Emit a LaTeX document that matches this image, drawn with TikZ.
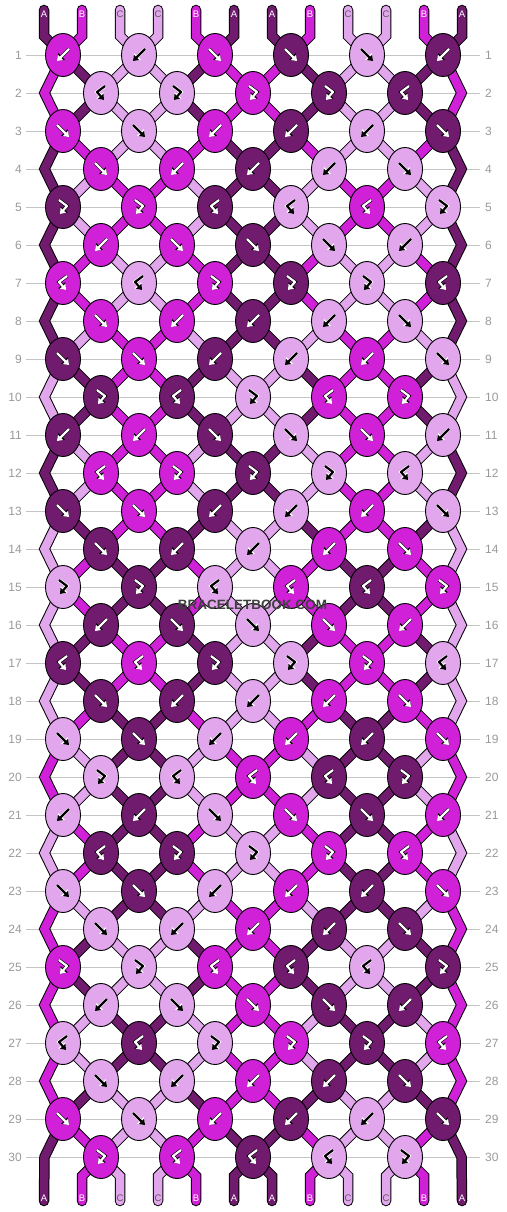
\documentclass[tikz,border=0pt]{standalone}
\usepackage{fontspec}
\setmainfont{Liberation Sans}
\usepackage{tikz}
\usepackage{xcolor}
\usetikzlibrary{shapes.geometric,arrows.meta}
\pgfdeclarelayer{background}
\pgfsetlayers{background,main}

\definecolor{strA}{HTML}{711B6F}
\definecolor{strB}{HTML}{D021D8}
\definecolor{strC}{HTML}{E2A6EC}
\colorlet{arrA}{white}
\colorlet{arrB}{white}
\colorlet{arrC}{black}
\colorlet{rimA}{black}
\colorlet{rimB}{black}
\colorlet{rimC}{white}
\colorlet{labA}{white}
\colorlet{labB}{white}
\colorlet{labC}{black!65}
\definecolor{rulegray}{HTML}{C4C4C4}
\definecolor{numgray}{HTML}{999999}

\newcommand{\glyphf}[2]{\draw [glyph=#2] ([shift={(-6,-6)}]#1.center) -- ([shift={(6,6)}]#1.center);}
\newcommand{\glyphb}[2]{\draw [glyph=#2] ([shift={(6,-6)}]#1.center) -- ([shift={(-6,6)}]#1.center);}
\newcommand{\glyphfb}[2]{\draw [glyph=#2] ([shift={(-4,-7)}]#1.center) -- ([shift={(4,-1)}]#1.center) -- ([shift={(-3,7)}]#1.center);}
\newcommand{\glyphbf}[2]{\draw [glyph=#2] ([shift={(4,-7)}]#1.center) -- ([shift={(-4,-1)}]#1.center) -- ([shift={(3,7)}]#1.center);}

\begin{document}
\begin{tikzpicture}[x=1pt, y=-1pt,
	knot/.style={ellipse, draw=black, line width=0.9pt, minimum width=35pt, minimum height=43pt, inner sep=0pt},
	thread/.style={draw=black, line width=1pt, double=#1, double distance=8.5pt},
	glyph/.style={draw=arr#1, line width=2.2pt, line join=round, -{Triangle[length=5pt,width=7pt]},
		preaction={draw=rim#1, line width=3.4pt, -{Triangle[length=6.4pt,width=9pt]}}},
	rownum/.style={text=numgray, font=\fontsize{12}{12}\selectfont, inner sep=0pt},
	rowline/.style={draw=rulegray, line width=0.9pt},
	strlabel/.style={font=\fontsize{9.5}{9.5}\selectfont, inner sep=0pt},
	wmtext/.style={font=\bfseries\fontsize{13.5}{13.5}\selectfont, inner sep=0pt}]

\useasboundingbox (0,0) rectangle (506,1212);

\foreach \r in {1,...,30} {
	\pgfmathsetmacro\y{55+38*(\r-1)}
	\node [rownum, anchor=east] (nl\r) at (22,\y) {\r};
	\node [rownum, anchor=west] (nr\r) at (485,\y) {\r};
	\coordinate (eL\r) at (44.5,\y);
	\coordinate (eR\r) at (461.5,\y);
	\begin{pgfonlayer}{background}
		\draw [rowline] ([xshift=4pt]nl\r.east) -- ([xshift=-5pt]nr\r.west);
	\end{pgfonlayer}
}

\foreach \r/\knots in {
	1/{B/b,C/b,B/f,A/f,C/f,A/b},
	2/{C/bf,C/fb,B/fb,A/fb,A/bf},
	3/{B/f,C/f,B/b,A/b,C/b,A/f},
	4/{B/f,B/b,A/b,C/b,C/f},
	5/{A/fb,B/fb,A/bf,C/bf,B/bf,C/fb},
	6/{B/b,B/f,A/f,C/f,C/b},
	7/{B/bf,C/bf,B/fb,A/fb,C/fb,A/bf},
	8/{B/f,B/b,A/b,C/b,C/f},
	9/{A/f,B/f,A/b,C/b,B/b,C/f},
	10/{A/fb,A/bf,C/fb,B/bf,B/fb},
	11/{A/b,B/b,A/f,C/f,B/f,C/b},
	12/{B/bf,B/fb,A/fb,C/fb,C/bf},
	13/{A/f,B/f,A/b,C/b,B/b,C/f},
	14/{A/f,A/b,C/b,B/b,B/f},
	15/{C/fb,A/fb,C/bf,B/bf,A/bf,B/fb},
	16/{A/b,A/f,C/f,B/f,B/b},
	17/{A/bf,B/bf,A/fb,C/fb,B/fb,C/bf},
	18/{A/f,A/b,C/b,B/b,B/f},
	19/{C/f,A/f,C/b,B/b,A/b,B/f},
	20/{C/fb,C/bf,B/bf,A/bf,A/fb},
	21/{C/b,A/b,C/f,B/f,A/f,B/b},
	22/{A/bf,A/fb,C/fb,B/fb,B/bf},
	23/{C/f,A/f,C/b,B/b,A/b,B/f},
	24/{C/f,C/b,B/b,A/b,A/f},
	25/{B/fb,C/fb,B/bf,A/bf,C/bf,A/fb},
	26/{C/b,C/f,B/f,A/f,A/b},
	27/{C/bf,A/bf,C/fb,B/fb,A/fb,B/bf},
	28/{C/f,C/b,B/b,A/b,A/f},
	29/{B/f,C/f,B/b,A/b,C/b,A/f},
	30/{B/fb,B/bf,A/bf,C/bf,C/fb}} {
	\foreach \c/\t [count=\i] in \knots {
		\pgfmathsetmacro\x{101-38*mod(\r,2)+76*(\i-1)}
		\pgfmathsetmacro\y{55+38*(\r-1)}
		\node [knot, fill=str\c] (k\r-\i) at (\x,\y) {};
		\csname glyph\t\endcsname{k\r-\i}{\c}
	}
}

\foreach \c [count=\p] in {A,B,C,C,B,A,A,B,C,C,B,A} {
	\pgfmathsetmacro\x{44+38*(\p-1)}
	\pgfmathtruncatemacro\i{(\p+1)/2}
	\coordinate (tt\p) at (\x,10);
	\coordinate (tb\p) at (\x,36);
	\coordinate (bb\p) at (\x,1176);
	\coordinate (bt\p) at (\x,1201);
	\node [strlabel, text=lab\c] (tl\p) at (\x,14) {\c};
	\node [strlabel, text=lab\c] (bl\p) at (\x,1198) {\c};
	\begin{pgfonlayer}{background}
		\draw [thread=str\c, line cap=round] (tt\p) -- (tb\p) -- (k1-\i.center);
	\end{pgfonlayer}
}

\begin{pgfonlayer}{background}
	\foreach \r/\c in {2/B,4/A,6/A,8/A,10/C,12/A,14/C,16/C,18/C,20/B,22/C,24/B,26/B,28/B} {
		\pgfmathtruncatemacro\u{\r-1}
		\pgfmathtruncatemacro\s{\r+1}
		\draw [thread=str\c] (k\u-1.center) -- (eL\r) -- (k\s-1.center);
		\draw [thread=str\c] (k\u-6.center) -- (eR\r) -- (k\s-6.center);
	}
	\foreach \r/\cols in {
		1/{A,C,C,A,B,B,A,C,C,A},
		2/{A,C,C,A,B,B,A,C,C,A},
		3/{B,C,C,B,A,A,B,C,C,B},
		4/{C,B,B,C,A,A,C,B,B,C},
		5/{C,B,B,C,A,A,C,B,B,C},
		6/{B,C,C,B,A,A,B,C,C,B},
		7/{B,C,C,B,A,A,B,C,C,B},
		8/{C,B,B,C,A,A,C,B,B,C},
		9/{A,B,B,A,C,C,A,B,B,A},
		10/{A,B,B,A,C,C,A,B,B,A},
		11/{C,B,B,C,A,A,C,B,B,C},
		12/{C,B,B,C,A,A,C,B,B,C},
		13/{A,B,B,A,C,C,A,B,B,A},
		14/{B,A,A,B,C,C,B,A,A,B},
		15/{B,A,A,B,C,C,B,A,A,B},
		16/{A,B,B,A,C,C,A,B,B,A},
		17/{A,B,B,A,C,C,A,B,B,A},
		18/{B,A,A,B,C,C,B,A,A,B},
		19/{C,A,A,C,B,B,C,A,A,C},
		20/{C,A,A,C,B,B,C,A,A,C},
		21/{B,A,A,B,C,C,B,A,A,B},
		22/{B,A,A,B,C,C,B,A,A,B},
		23/{C,A,A,C,B,B,C,A,A,C},
		24/{A,C,C,A,B,B,A,C,C,A},
		25/{A,C,C,A,B,B,A,C,C,A},
		26/{C,A,A,C,B,B,C,A,A,C},
		27/{C,A,A,C,B,B,C,A,A,C},
		28/{A,C,C,A,B,B,A,C,C,A},
		29/{B,C,C,B,A,A,B,C,C,B}} {
		\pgfmathtruncatemacro\s{\r+1}
		\foreach \c [count=\p from 2] in \cols {
			\pgfmathtruncatemacro\i{(\p+mod(\r,2))/2}
			\pgfmathtruncatemacro\j{(\p+mod(\s,2))/2}
			\draw [thread=str\c] (k\r-\i.center) -- (k\s-\j.center);
		}
	}
	\draw [thread=strA, line cap=round] (k29-1.center) -- (eL30) -- (bt1);
	\draw [thread=strA, line cap=round] (k29-6.center) -- (eR30) -- (bt12);
	\foreach \c [count=\p from 2] in {B,C,C,B,A,A,B,C,C,B} {
		\pgfmathtruncatemacro\j{\p/2}
		\draw [thread=str\c, line cap=round] (k30-\j.center) -- (bb\p) -- (bt\p);
	}
\end{pgfonlayer}

\node [wmtext, text=black!75] (wmtxt) at (252.5,605) {BRACELETBOOK.COM};

\end{tikzpicture}
\end{document}
